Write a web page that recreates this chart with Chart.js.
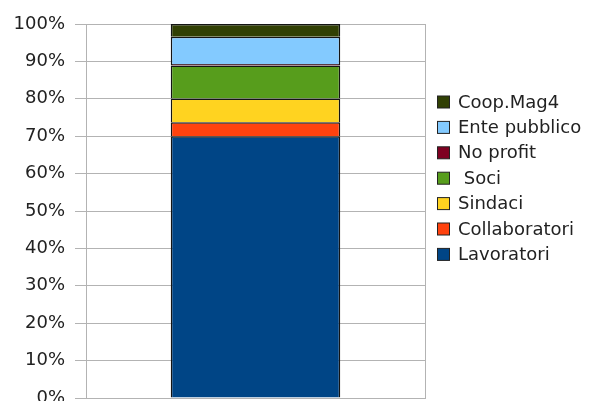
<!DOCTYPE html>
<html>
<head>
<meta charset="utf-8">
<script src="https://cdn.jsdelivr.net/npm/chart.js@4/dist/chart.umd.min.js"></script>
<style>
html,body{margin:0;padding:0;background:#fff;}
#wrap{width:595px;height:401px;position:relative;}
</style>
</head>
<body>
<div id="wrap"><canvas id="c" width="595" height="401"></canvas></div>
<script>
const categories = [""];
const seriesNames = ["Lavoratori", "Collaboratori", "Sindaci", " Soci", "No profit", "Ente pubblico", "Coop.Mag4"];
const lavoratori = [70.0];
const collaboratori = [3.7];
const sindaci = [6.4];
const soci = [8.8];
const noProfit = [0.4];
const entePubblico = [7.3];
const coopMag4 = [3.4];
const yTicks = [0, 10, 20, 30, 40, 50, 60, 70, 80, 90, 100];
const colors = ["#004586", "#ff420e", "#ffd320", "#579d1c", "#7e0021", "#83caff", "#314004"];

const seriesValues = [lavoratori, collaboratori, sindaci, soci, noProfit, entePubblico, coopMag4];
const FONT = "'DejaVu Sans', sans-serif";

const legendPlugin = {
  id: 'customLegend',
  afterDraw(chart) {
    const ctx = chart.ctx;
    const ds = chart.data.datasets;
    ctx.save();
    ctx.font = "18px " + FONT;
    ctx.textBaseline = 'middle';
    const n = ds.length;
    for (let k = 0; k < n; k++) {
      const i = n - 1 - k;
      const y = 102 + k * 25.4;
      ctx.fillStyle = ds[i].backgroundColor;
      ctx.fillRect(437.5, y - 6, 12, 12);
      ctx.strokeStyle = '#222';
      ctx.lineWidth = 1;
      ctx.strokeRect(437.5, y - 6, 12, 12);
      ctx.fillStyle = '#222';
      ctx.fillText(ds[i].label, 458, y + 1);
    }
    ctx.restore();
  }
};

new Chart(document.getElementById('c'), {
  type: 'bar',
  data: {
    labels: categories,
    datasets: seriesNames.map((name, i) => ({
      label: name,
      data: seriesValues[i],
      backgroundColor: colors[i],
      borderColor: '#141414',
      borderWidth: 1.5,
      categoryPercentage: 0.5,
      barPercentage: 1.0
    }))
  },
  options: {
    responsive: false,
    animation: false,
    layout: { padding: { top: 24, right: 170, bottom: 3, left: 0 } },
    plugins: { legend: { display: false }, tooltip: { enabled: false } },
    scales: {
      x: {
        stacked: true,
        grid: { display: true, color: '#b3b3b3', drawTicks: false, offset: true },
        border: { display: true, color: '#b3b3b3' },
        ticks: { display: false, padding: 0 },
        afterFit(scale) { scale.height = 0; scale.paddingLeft = 0; scale.paddingRight = 0; }
      },
      y: {
        stacked: true,
        min: 0, max: 100,
        afterFit(scale) { scale.width = 86; scale.paddingTop = 0; scale.paddingBottom = 0; },
        afterBuildTicks(scale) { scale.ticks = yTicks.map(v => ({ value: v })); },
        grid: { color: '#b3b3b3', tickLength: 11 },
        border: { color: '#b3b3b3' },
        ticks: {
          color: '#222',
          font: { family: FONT, size: 18 },
          padding: 10,
          callback: v => v + '%'
        }
      }
    }
  },
  plugins: [legendPlugin]
});
</script>
</body>
</html>
